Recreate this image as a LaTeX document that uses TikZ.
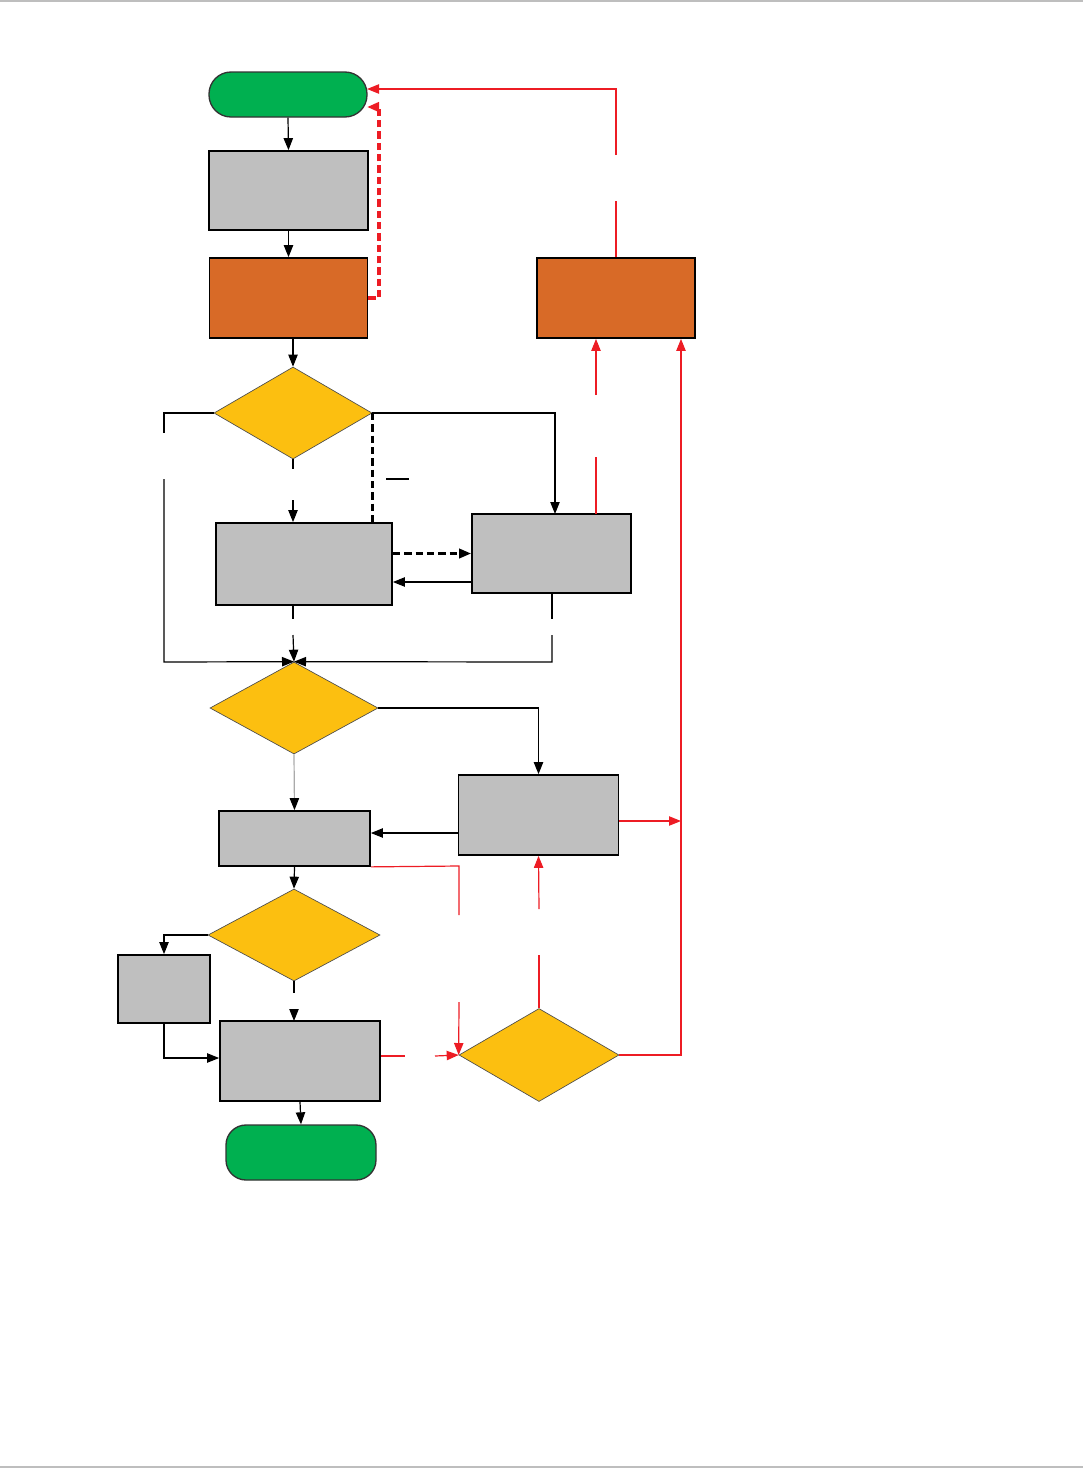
\documentclass[tikz,border=0pt]{standalone}
\usetikzlibrary{arrows.meta,shapes.geometric}
\definecolor{cgreen}{RGB}{0,176,80}
\definecolor{cgray}{RGB}{191,191,191}
\definecolor{corange}{RGB}{216,106,39}
\definecolor{cyellow}{RGB}{252,191,16}
\definecolor{cred}{RGB}{237,28,36}
\definecolor{cframe}{RGB}{190,190,190}
\definecolor{clight}{RGB}{170,170,170}
\begin{document}
\begin{tikzpicture}[x=0.75pt,y=-0.75pt,
  box/.style={draw=black,line width=1.3pt,fill=cgray,inner sep=0pt,minimum width=#1},
  obox/.style={draw=black,line width=1.3pt,fill=corange,inner sep=0pt,minimum width=118.5pt,minimum height=60pt},
  term/.style={draw=black!80,line width=1pt,fill=cgreen,inner sep=0pt,rounded corners=#1},
  dec/.style={diamond,draw=black!70,line width=0.5pt,fill=cyellow,inner sep=0pt},
  ln/.style={draw=black,line width=0.9pt},
  ar/.style={ln,-{Triangle[length=9pt,width=7pt]}},
  rl/.style={draw=cred,line width=0.9pt},
  ra/.style={rl,-{Triangle[length=9pt,width=7pt]}},
  dsh/.style={line width=2pt,dash pattern=on 5.5pt off 3pt},
  rdsh/.style={line width=2.4pt,dash pattern=on 5.5pt off 3pt}
]
\useasboundingbox (0,0) rectangle (1083,1468);
\draw[cframe,line width=1.5pt] (0,1) -- (1083,1);
\draw[cframe,line width=1.5pt] (0,1467) -- (1083,1467);

% nodes
\node[term=16.5pt,minimum width=118.5pt,minimum height=33.75pt] (start) at (288,94.5) {};
\node[box=119.25pt,minimum height=59.25pt] (b1) at (288.5,190.5) {};
\node[obox] (b2) at (288.5,298) {};
\node[obox] (o2) at (616,298) {};
\node[dec,minimum width=118.5pt,minimum height=69pt] (d1) at (293,413) {};
\node[box=132pt,minimum height=61.5pt] (b3) at (304,564) {};
\node[box=119.25pt,minimum height=59.25pt] (b4) at (551.5,553.5) {};
\node[dec,minimum width=126pt,minimum height=69pt] (d2) at (294,708) {};
\node[box=120pt,minimum height=60pt] (b5) at (538.5,815) {};
\node[box=113.25pt,minimum height=41.25pt] (b6) at (294.5,838.5) {};
\node[dec,minimum width=129pt,minimum height=69pt] (d3) at (294,935) {};
\node[box=69pt,minimum height=51pt] (b7) at (164,989) {};
\node[box=120pt,minimum height=60pt] (b8) at (300,1061) {};
\node[dec,minimum width=120pt,minimum height=69.75pt] (d4) at (539,1055) {};
\node[term=15pt,minimum width=112.5pt,minimum height=41.25pt] (end) at (301,1152.5) {};

% helper coordinates
\coordinate (sA) at (367,107);
\coordinate (sB) at (367,89);
\coordinate (c582) at (0,582);
\coordinate (c833) at (0,833);
\coordinate (c821) at (0,821);
\coordinate (c1056) at (0,1056);
\coordinate (c1058) at (0,1058);
\coordinate (vr) at (681,1055);
\coordinate (x596) at (596,0);

% top column
\draw[ar] (start.south) -- (b1.north);
\draw[ar] (b1.south) -- (b2.north);
\draw[ar] (d1.north |- b2.south) -- (d1.north);
\draw[ra,rdsh] (b2.east) -- (379,298) -- (379,107) -- (sA);
\draw[rl] (o2.north) -- (616,201);
\draw[ra] (616,155) -- (616,89) -- (sB);

% decision 1
\draw[ln] (d1.west) -- (164,413) -- (164,433);
\draw[ar] (164,479) -- (164,662) -- (d2.north);
\draw[ln] (d1.south) -- (293,469);
\draw[ar] (293,500) -- (d1.south |- b3.north);
\draw[ar] (d1.east) -- (555,413) -- (555,514);
\draw[ln,dsh] (d1.east) -- (d1.east |- b3.north);
\draw[ln] (386,479) -- (409,479);

% boxes 3 and 4
\draw[ar,dsh] (b3.east |- b4.west) -- (b4.west);
\draw[ar] (b4.west |- c582) -- (b3.east |- c582);
\draw[ln] (293,605) -- (293,619);
\draw[ar] (293,635) -- (d2.north);
\draw[ln] (552,593) -- (552,619);
\draw[ar] (552,635) -- (552,662) -- (d2.north);
\draw[rl] (596,514) -- (596,457);
\draw[ra] (596,395) -- (x596 |- o2.south);

% decision 2
\draw[ar] (d2.east) -- (538.5,708) -- (b5.north);
\draw[clight,line width=0.9pt,-{Triangle[length=9pt,width=7pt,color=black]}] (d2.south) -- (b6.north);
\draw[ar] (b5.west |- c833) -- (b6.east |- c833);
\draw[ra] (b5.east |- c821) -- (vr |- c821);
\draw[ra] (d4.east) -- (vr) -- (vr |- o2.south);
\draw[rl] (b6.south east) -- (459,866) -- (459,915);
\draw[ra] (459,1002) -- (d4.west);

% decision 3
\draw[ar] (b6.south) -- (d3.north);
\draw[ar] (d3.west) -- (164,935) -- (b7.north);
\draw[ar] (b7.south) -- (164,1058) -- (b8.west |- c1058);
\draw[ln] (d3.south) -- (294,993);
\draw[ar] (294,1010) -- (294,1021);
\draw[rl] (b8.east |- c1056) -- (405,1056);
\draw[ra] (435,1056) -- (d4.west);
\draw[rl] (d4.north) -- (539,955);
\draw[ra] (539,909) -- (b5.south);
\draw[ar] (b8.south) -- (end.north);
\end{tikzpicture}
\end{document}
